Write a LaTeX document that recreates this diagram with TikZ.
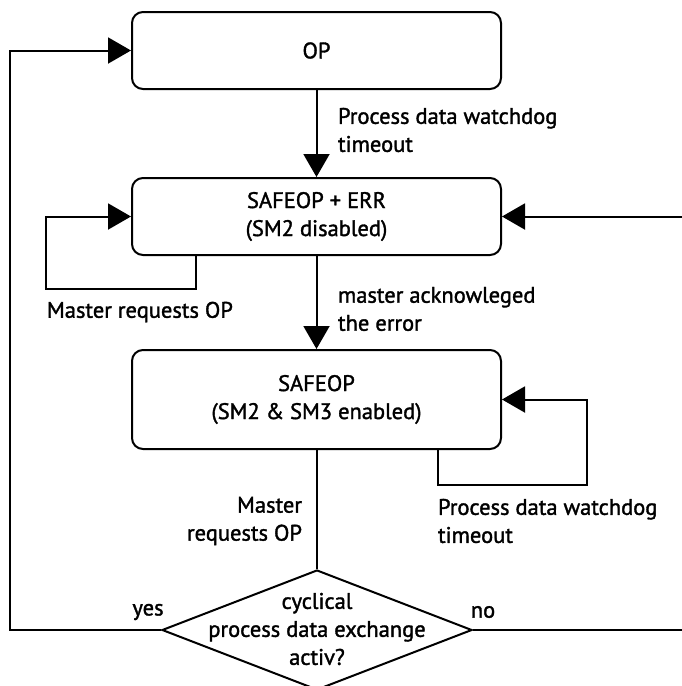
\documentclass[tikz,border=0pt]{standalone}
\usepackage{fontspec}
\setmainfont{PT Sans}[FakeBold=1.5]
\usetikzlibrary{arrows.meta,shapes.geometric}
\begin{document}
\begin{tikzpicture}[x=1pt,y=-1pt,line width=2pt,
    every node/.style={font=\fontsize{22.5}{28}\selectfont},
    state/.style={draw,rounded corners=11pt,minimum width=369pt,inner sep=0pt},
    arr/.style={-{Triangle[length=23pt,width=26pt]}},
    lbl/.style={align=left,anchor=west,inner sep=0pt}]
    \useasboundingbox (0,0) rectangle (682,686);
    % states
    \node[state,minimum height=77pt] (op) at (316.5,50.5){OP};
    \node[state,minimum height=77pt,align=center] (err) at (316.5,216.5){SAFEOP + ERR\\(SM2 disabled)};
    \node[state,minimum height=99pt,align=center] (safe) at (316.5,399.5){SAFEOP\\(SM2 \& SM3 enabled)};
    \node[draw,diamond,minimum width=310pt,minimum height=120pt,inner sep=0pt] (dec) at (317,630){};
    \node[align=center,inner sep=0pt] (dectext) at (317,629){cyclical\\process data exchange\\activ?};
    % loop corners and open ends
    \coordinate (errloop) at (196,289);
    \coordinate (errloopl) at (46,289);
    \coordinate (safeloop) at (438,485);
    \coordinate (safeloopr) at (587,485);
    \coordinate (rin) at (682,216.5);
    \coordinate (yesend) at (10,630);
    \coordinate (noend) at (682,630);
    % connectors
    \draw[arr] (op) -- (err);
    \draw[arr] (err) -- (safe);
    \draw[arr] (errloop |- err.south) -- (errloop) -- (errloopl) |- (err.west);
    \draw[arr] (rin) -- (err.east);
    \draw[arr] (safeloop |- safe.south) -- (safeloop) -- (safeloopr) |- (safe.east);
    \draw (safe.south -| dec.north) -- (dec.north);
    \draw[arr] (dec.west) -- (yesend) |- (op.west);
    \draw (dec.east) -- (noend);
    % labels
    \node[lbl] (l1) at (337,130){Process data watchdog\\timeout};
    \node[lbl] (l2) at (337,309){master acknowleged\\the error};
    \node[lbl] (l3) at (46,312){Master requests OP};
    \node[lbl] (l4) at (437,521){Process data watchdog\\timeout};
    \node[align=right,anchor=east,inner sep=0pt] (l5) at (303,521){Master\\requests OP};
    \node[inner sep=0pt] (yes) at (148,612){yes};
    \node[inner sep=0pt] (no) at (483,612){no};
\end{tikzpicture}
\end{document}
